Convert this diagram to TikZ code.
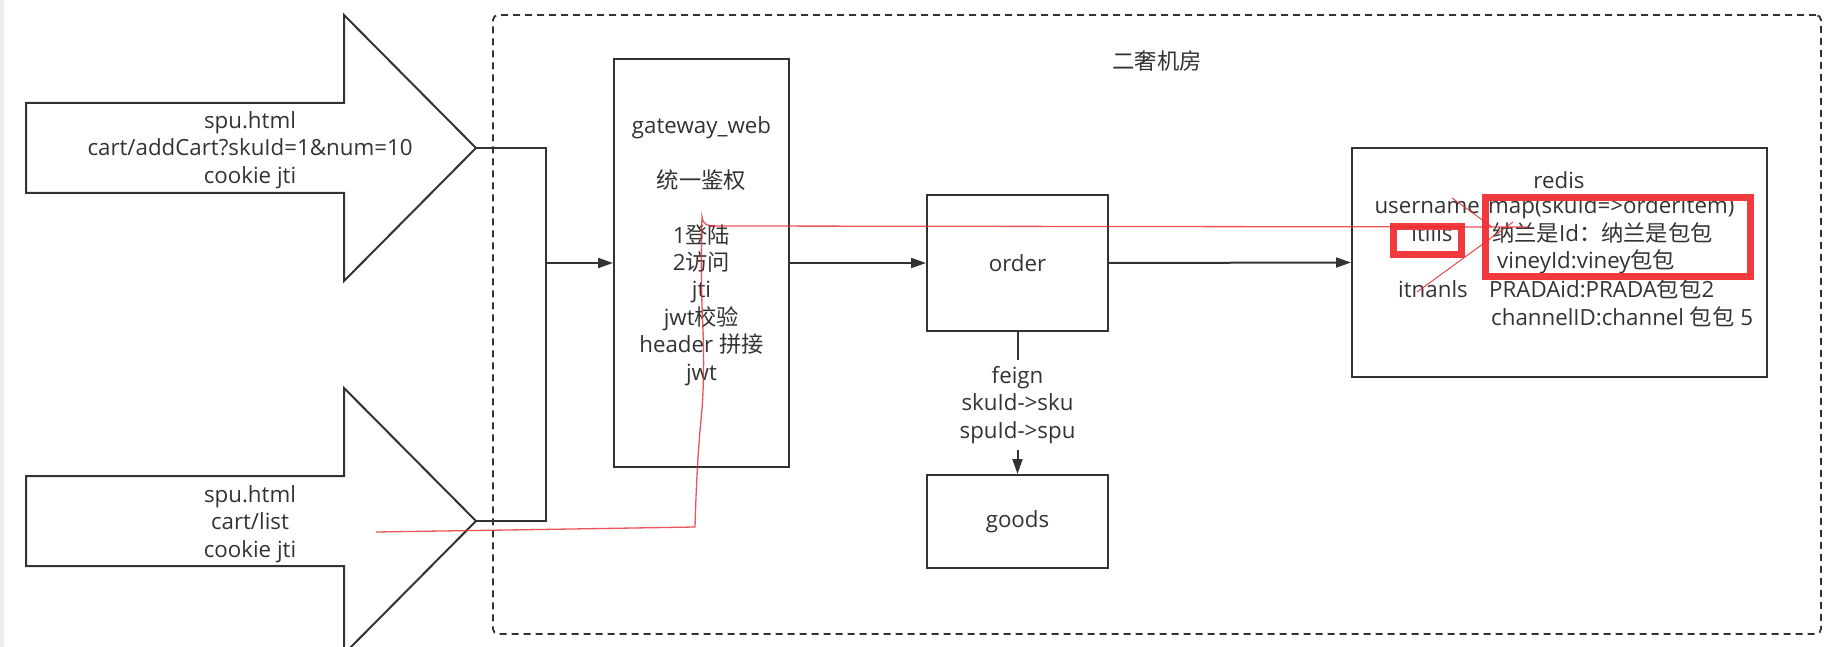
\documentclass[tikz,border=0pt]{standalone}
\usepackage{fontspec}
\setmainfont{Open Sans}
\newfontfamily\cjk{Noto Sans CJK SC}
\usetikzlibrary{arrows.meta}
\definecolor{ink}{RGB}{51,51,51}
\definecolor{pen}{RGB}{232,40,50}
\definecolor{mark}{RGB}{240,58,62}
\begin{document}
\begin{tikzpicture}[x=1pt,y=-1pt,
  font=\fontsize{22.3}{27.4}\selectfont, text=ink,
  every node/.style={inner sep=0pt},
  box/.style={draw=ink, line width=2pt, fill=white, inner sep=0pt, align=center},
  conn/.style={draw=ink, line width=2pt},
  arr/.style={conn, -{Triangle[length=15pt,width=10pt]}},
  bigarrow/.style={draw=ink, line width=2pt, fill=white, line join=miter},
  room/.style={draw=ink, line width=1.8pt, dash pattern=on 7pt off 5pt, rounded corners=5pt},
  penline/.style={draw=pen, line width=1.3pt, opacity=0.8},
  markbox/.style={draw=mark, line width=7pt},
  lbl/.style={align=center}]
\useasboundingbox (0,0) rectangle (1842,647);
\clip (0,0) rectangle (1842,647);
\fill[white] (0,0) rectangle (1842,647);
\fill[black!7] (0,0) rectangle (4,647);

% dashed room
\node[room, minimum width=1328pt, minimum height=619pt] (roomframe) at (1157,324.5) {};
\node (title) at (1157,61) {\cjk 二奢机房};

% big arrows
\draw[bigarrow] (26,103) -- (344,103) -- (344,15) -- (476,148) -- (344,281) -- (344,193) -- (26,193) -- cycle;
\coordinate (tipA) at (476,148);
\node[lbl] (txtA) at (250,150) {spu.html\\cart/addCart?skuId=1\&num=10\\cookie jti};

\draw[bigarrow] (26,476) -- (344,476) -- (344,388) -- (476,521) -- (344,654) -- (344,566) -- (26,566) -- cycle;
\coordinate (tipB) at (476,521);
\node[lbl] (txtB) at (250,524) {spu.html\\cart/list\\cookie jti};

% boxes
\node[box, minimum width=175pt, minimum height=408pt] (gw) at (701.5,263) {};
\node[lbl] (gwtext) at (701.5,251) {gateway\_web\\[27.4pt]{\cjk 统一鉴权}\\[27.4pt]1{\cjk 登陆}\\2{\cjk 访问}\\jti\\jwt{\cjk 校验}\\header {\cjk 拼接}\\jwt};
\node[box, minimum width=181pt, minimum height=136pt] (order) at (1017.5,263) {order};
\node[box, minimum width=181pt, minimum height=93pt] (goods) at (1017.5,521.5) {goods};
\node[box, minimum width=415pt, minimum height=229pt] (redis) at (1559.5,262.5) {};

% connectors
\coordinate (J) at (546,263);
\draw[conn] (tipA) -| (J);
\draw[conn] (tipB) -| (J);
\draw[arr] (J) -- (gw.west);
\draw[arr] (gw.east) -- (order.west);
\draw[arr] (order.east) -- (redis.west);
\node[lbl, inner ysep=6pt] (feign) at (1017.5,405) {feign\\skuId->sku\\spuId->spu};
\draw[conn] (order.south) -- (feign.north);
\draw[arr] (feign.south) -- (goods.north);

% redis contents
\node[anchor=base] (rtitle) at (1559,189) {redis};
\node[anchor=base east] (kuser) at (1480,214) {username};
\node[anchor=base] (k1) at (1432,242) {itlils};
\node[anchor=base] (k2) at (1433,297) {itnanls};
\node[anchor=base west] (v0) at (1488,214) {map(skuId=>orderItem)};
\node[anchor=base west] (v1) at (1492,242) {{\cjk 纳兰是}Id{\cjk ：纳兰是包包}};
\node[anchor=base west] (v2) at (1497,269) {vineyId:viney{\cjk 包包}};
\node[anchor=base west] (v3) at (1489,297) {PRADAid:PRADA{\cjk 包包}2};
\node[anchor=base west] (v4) at (1491,325) {channelID:channel {\cjk 包包} 5};

% red annotation marks
\draw[markbox] (1393.5,226.5) rectangle (1461.5,254.5);
\draw[markbox] (1485,198) rectangle (1750,276);

% red pen strokes
\draw[penline] (376,532) -- (540,529.5) -- (695,527)
  .. controls (696,490) and (698,450) .. (701,420)
  .. controls (704,390) and (704,360) .. (703,330)
  .. controls (701,290) and (701,250) .. (702,217)
  .. controls (703,224) and (706,226) .. (717,226) -- (1528,227);
\draw[draw=pen, line width=1pt, opacity=0.85] (1452,198) -- (1492,227);
\draw[draw=pen, line width=1pt, opacity=0.85] (1417,292) -- (1513,222);
\end{tikzpicture}
\end{document}
